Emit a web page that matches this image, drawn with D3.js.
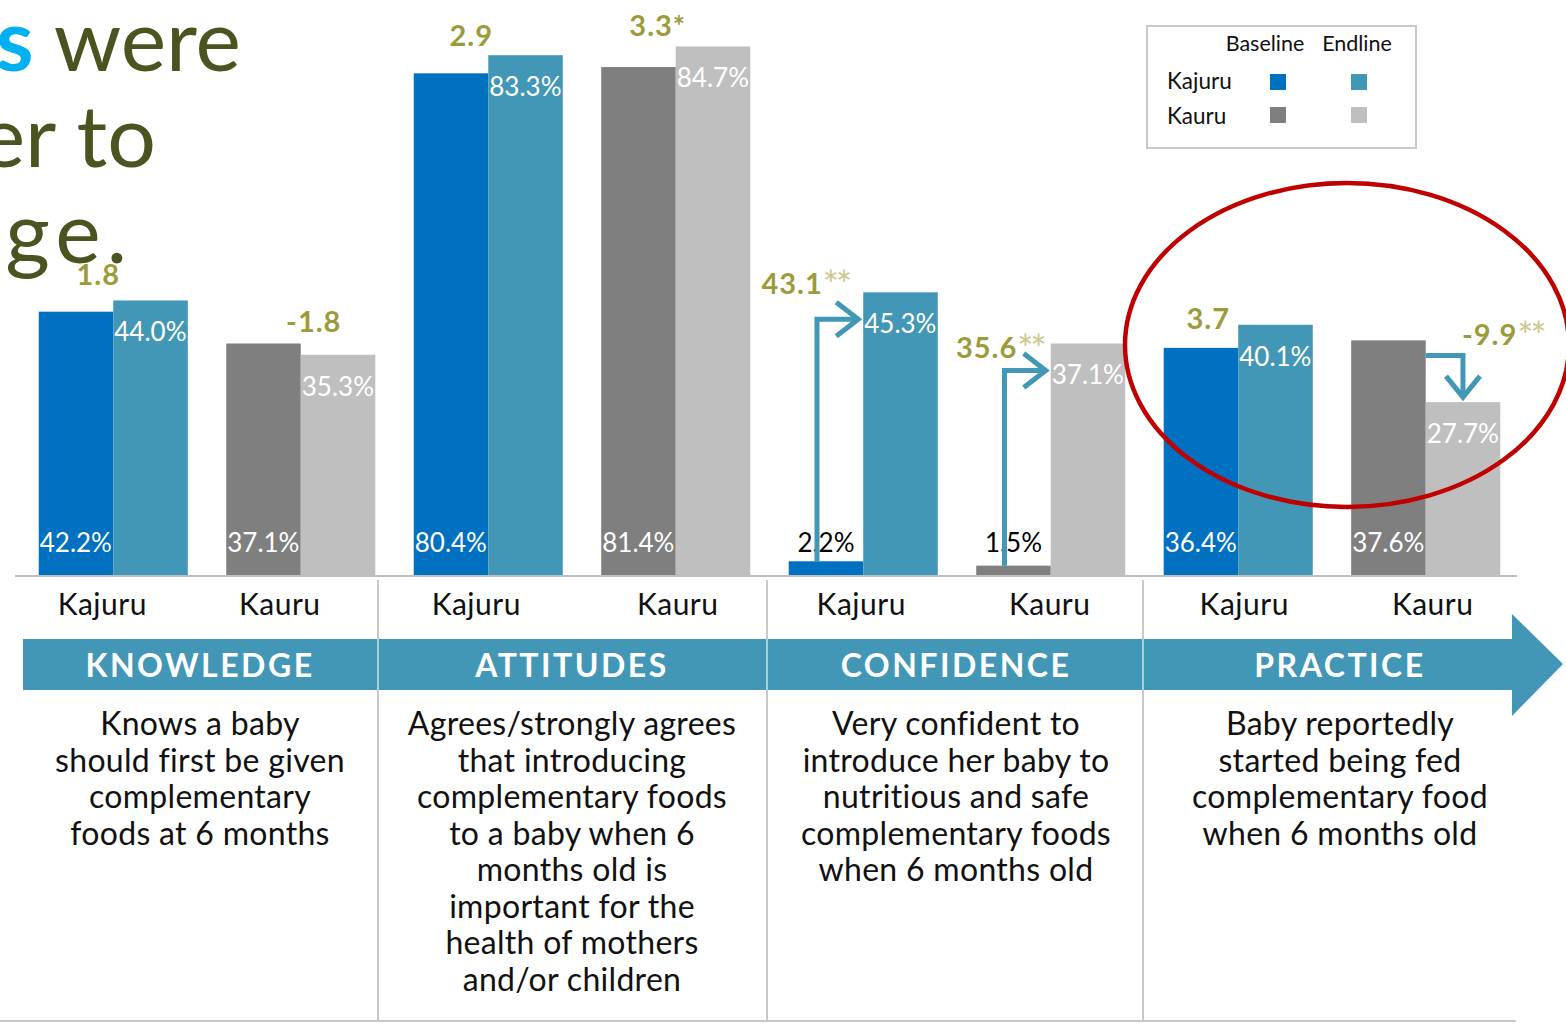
<!DOCTYPE html>
<html>
<head>
<meta charset="utf-8">
<script src="https://cdn.jsdelivr.net/npm/d3@7"></script>
<style>
  html, body { margin: 0; padding: 0; background: #fff; }
  svg { display: block; font-family: Lato, "Noto Sans", sans-serif; }
</style>
</head>
<body>
<svg id="chart" width="1566" height="1024"></svg>
<script>
// ---------- DATA ----------
const domains = ["KNOWLEDGE", "ATTITUDES", "CONFIDENCE", "PRACTICE"];
const sites = ["Kajuru", "Kauru"];
const baselineValues = [42.2, 37.1, 80.4, 81.4, 2.2, 1.5, 36.4, 37.6];
const endlineValues  = [44.0, 35.3, 83.3, 84.7, 45.3, 37.1, 40.1, 27.7];
const diffValues     = ["1.8", "-1.8", "2.9", "3.3", "43.1", "35.6", "3.7", "-9.9"];
const diffSig        = ["", "", "", "*", "**", "**", "", "**"];
const legendColumns  = ["Baseline", "Endline"];
const descriptions = [
  ["Knows a baby", "should first be given", "complementary", "foods at 6 months"],
  ["Agrees/strongly agrees", "that introducing", "complementary foods", "to a baby when 6", "months old is", "important for the", "health of mothers", "and/or children"],
  ["Very confident to", "introduce her baby to", "nutritious and safe", "complementary foods", "when 6 months old"],
  ["Baby reportedly", "started being fed", "complementary food", "when 6 months old"]
];
const titleLines = [["s", " were"], ["", "er to"], ["", "ge."]];

// ---------- STYLE / LAYOUT ----------
const baseColors = ["#0070C0", "#7F7F7F"];
const endColors  = ["#4397B6", "#BFBFBF"];
const teal = "#4397B6";
const olive = "#9B9B3C";
const oliveLight = "#C9C98F";
// label nudges relative to pair centre / top of taller bar
const diffNudge = [[-15,-15],[13,-11],[-17,-9],[-18,-10],[-58,2],[-51,15],[-30,4],[77,5]];
const siteNudge = [-11, -21, -12, 2, -2, -1, 6, 7];

const svg = d3.select("#chart");
const keys = d3.range(baselineValues.length);

const x = d3.scaleBand().domain(keys).range([20, 1519]).paddingInner(0.205).paddingOuter(0.1);
const bw = x.bandwidth() / 2;
const y = d3.scaleLinear().domain([0, 100]).range([575, -49]);
const siteOf = i => i % 2;

// ---------- TITLE FRAGMENT ----------
const title = svg.append("g");
titleLines.forEach((parts, li) => {
  const t = title.append("text")
    .attr("x", [241, 156, 133][li]).attr("y", 71 + li * 96)
    .attr("text-anchor", "end")
    .style("font-family", "Lato, sans-serif")
    .style("font-size", "86px")
    .style("letter-spacing", li === 2 ? "6px" : "0px");
  t.append("tspan").text(parts[0]).attr("fill", "#00B0F0").style("font-weight", "bold");
  t.append("tspan").text(parts[1]).attr("fill", "#4B5320");
});

// ---------- BARS ----------
const bars = svg.append("g");
bars.selectAll("rect.base").data(keys).join("rect")
  .attr("class", "base")
  .attr("x", i => x(i)).attr("width", bw)
  .attr("y", i => y(baselineValues[i])).attr("height", i => y(0) - y(baselineValues[i]))
  .attr("fill", i => baseColors[siteOf(i)]);
bars.selectAll("rect.end").data(keys).join("rect")
  .attr("class", "end")
  .attr("x", i => x(i) + bw).attr("width", bw)
  .attr("y", i => y(endlineValues[i])).attr("height", i => y(0) - y(endlineValues[i]))
  .attr("fill", i => endColors[siteOf(i)]);

// axis baseline
svg.append("line").attr("x1", 15).attr("x2", 1517).attr("y1", y(0) + 1).attr("y2", y(0) + 1)
  .attr("stroke", "#BFBFBF").attr("stroke-width", 2);

// value labels
const valFont = "26px";
svg.append("g").selectAll("text").data(keys).join("text")
  .attr("x", i => baselineValues[i] < 10 ? x(i) + bw / 2 : x(i) + 1)
  .attr("y", 552)
  .attr("text-anchor", i => baselineValues[i] < 10 ? "middle" : "start")
  .attr("fill", i => baselineValues[i] < 10 ? "#000" : "#fff")
  .style("font-size", valFont)
  .text(i => baselineValues[i].toFixed(1) + "%");
svg.append("g").selectAll("text").data(keys).join("text")
  .attr("x", i => x(i) + bw + 1)
  .attr("y", i => y(endlineValues[i]) + 41)
  .attr("fill", "#fff")
  .style("font-size", valFont)
  .text(i => endlineValues[i].toFixed(1) + "%");

// ---------- CHANGE ARROWS ----------
const arrows = svg.append("g").attr("fill", "none").attr("stroke", teal)
  .attr("stroke-width", 5).attr("stroke-linejoin", "miter");
keys.forEach(i => {
  const d = +diffValues[i];
  if (Math.abs(d) < 5) return;
  if (d > 0) {
    const x0 = x(i) + bw / 2 - 9;
    const y0 = y(baselineValues[i]);
    const y1 = y(endlineValues[i]) + 27;
    const x1 = x(i) + bw - 5;
    arrows.append("path").attr("d", `M${x0},${y0}V${y1}H${x1}`);
    arrows.append("path").attr("d", `M${x1 - 22},${y1 - 17}L${x1},${y1}L${x1 - 22},${y1 + 17}`);
  } else {
    const x0 = x(i) + bw;
    const y0 = y(baselineValues[i]) + 15;
    const xc = x(i) + bw * 1.5;
    const y1 = y(endlineValues[i]) - 5;
    arrows.append("path").attr("d", `M${x0},${y0}H${xc}V${y1}`);
    arrows.append("path").attr("d", `M${xc - 17},${y1 - 21}L${xc},${y1}L${xc + 17},${y1 - 21}`);
  }
});

// ---------- DIFFERENCE LABELS ----------
svg.append("g").selectAll("text").data(keys).join("text")
  .attr("x", i => x(i) + bw + diffNudge[i][0])
  .attr("y", i => y(Math.max(baselineValues[i], endlineValues[i])) + diffNudge[i][1])
  .attr("text-anchor", "middle")
  .style("font-size", "29px").style("font-weight", "bold").style("letter-spacing", "1px")
  .each(function(i) {
    const t = d3.select(this);
    t.append("tspan").attr("fill", olive).text(diffValues[i]);
    if (diffSig[i] === "*") {
      t.append("tspan").attr("fill", olive).text(diffSig[i]);
    } else if (diffSig[i]) {
      t.append("tspan")
        .attr("fill", oliveLight).attr("dy", 5)
        .style("font-size", "38px").style("font-weight", "normal")
        .style("letter-spacing", "-3px")
        .text(diffSig[i]);
    }
  });

// ---------- SITE LABELS ----------
svg.append("g").selectAll("text").data(keys).join("text")
  .attr("x", i => x(i) + bw + siteNudge[i]).attr("y", 615)
  .attr("text-anchor", "middle").attr("fill", "#111")
  .style("font-size", "30px").style("letter-spacing", "0.5px")
  .text(i => sites[siteOf(i)]);

// ---------- DOMAIN BANNER ----------
const secEdges = [23, 378, 767, 1143, 1512];
const banner = svg.append("g");
banner.append("path")
  .attr("d", `M${secEdges[0]},639H${secEdges[4]}V614L1563,664L${secEdges[4]},716V690H${secEdges[0]}Z`)
  .attr("fill", teal);
const secCenters = [200, 572, 956, 1340];
banner.selectAll("text").data(domains).join("text")
  .attr("x", (d, i) => secCenters[i]).attr("y", 677)
  .attr("text-anchor", "middle").attr("fill", "#fff")
  .style("font-size", "32px").style("font-weight", "bold").style("letter-spacing", "2.5px")
  .text(d => d);

// separators
[378, 767, 1143].forEach(sx => {
  svg.append("line").attr("x1", sx).attr("x2", sx).attr("y1", 580).attr("y2", 1021)
    .attr("stroke", "#C8C8C8").attr("stroke-width", 2);
  svg.append("line").attr("x1", sx).attr("x2", sx).attr("y1", 639).attr("y2", 690)
    .attr("stroke", "#A9CFDD").attr("stroke-width", 2);
});
svg.append("line").attr("x1", 0).attr("x2", 1516).attr("y1", 1021).attr("y2", 1021)
  .attr("stroke", "#C8C8C8").attr("stroke-width", 2);

// descriptions
descriptions.forEach((lines, si) => {
  const t = svg.append("text").attr("text-anchor", "middle").attr("fill", "#111")
    .style("font-size", "32px").style("letter-spacing", "0.3px");
  lines.forEach((ln, li) => {
    t.append("tspan").attr("x", secCenters[si]).attr("y", 735 + li * 36.5).text(ln);
  });
});

// ---------- LEGEND ----------
const lg = svg.append("g");
lg.append("rect").attr("x", 1147).attr("y", 26).attr("width", 269).attr("height", 122)
  .attr("fill", "#fff").attr("stroke", "#C8C8C8").attr("stroke-width", 2);
const colX = [1278, 1359];
const colTextX = [1265, 1357];
lg.selectAll("text.col").data(legendColumns).join("text").attr("class", "col")
  .attr("x", (d, i) => colTextX[i]).attr("y", 51).attr("text-anchor", "middle")
  .style("font-size", "21.5px").attr("fill", "#111").text(d => d);
sites.forEach((s, ri) => {
  lg.append("text").attr("x", 1167).attr("y", 89 + ri * 35).style("font-size", "22.5px")
    .attr("fill", "#111").text(s);
  [baseColors, endColors].forEach((cols, ci) => {
    lg.append("rect").attr("x", colX[ci] - 8).attr("y", 74 + ri * 33).attr("width", 16).attr("height", 16)
      .attr("fill", cols[ri]);
  });
});

// ---------- HIGHLIGHT ELLIPSE ----------
svg.append("ellipse").attr("cx", 1347).attr("cy", 345).attr("rx", 222).attr("ry", 162)
  .attr("fill", "none").attr("stroke", "#C00000").attr("stroke-width", 4.5);
</script>
</body>
</html>
